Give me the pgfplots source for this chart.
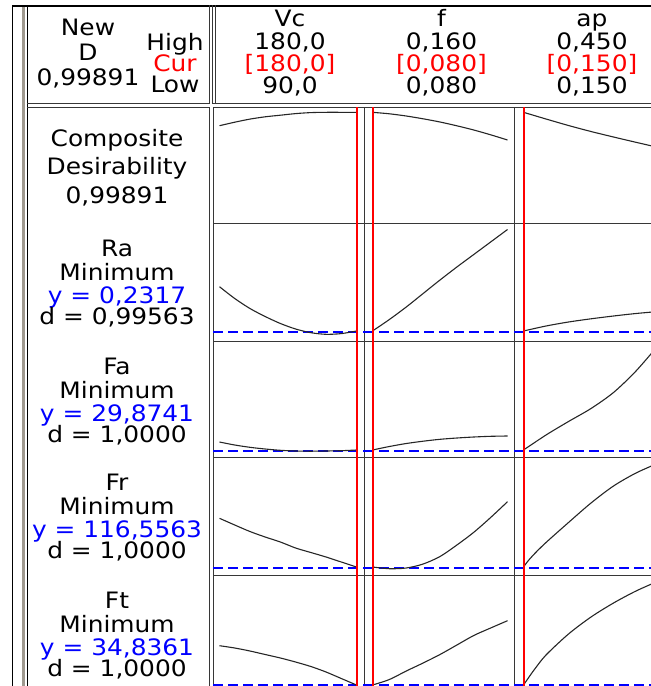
\documentclass[border=0pt]{standalone}
\usepackage{pgfplots}
\pgfplotsset{compat=1.18}
\usepackage{fontspec}
\setmainfont{DejaVu Sans}[FakeStretch=1.1]
\definecolor{mtred}{RGB}{255,0,0}
\definecolor{mtblue}{RGB}{0,0,255}
\definecolor{framegray}{RGB}{55,55,55}
\definecolor{bargray}{RGB}{160,154,144}

% panels: y in pixel rows of the optimizer sheet (downwards)
\pgfplotsset{
  panel/.style={anchor=north west, scale only axis, hide axis, clip=false, y dir=reverse},
  vc/.style={panel, at={(106.5pt,#1)}, width=75.5pt, xmin=85.73, xmax=184.93},
  ff/.style={panel, at={(182pt,#1)}, width=75pt, xmin=0.074963, xmax=0.16385},
  ap/.style={panel, at={(257pt,#1)}, width=75pt, xmin=0.12889, xmax=0.46222},
  resp/.style={draw=black!85, line width=0.55pt, smooth},
  setting/.style={draw=mtred, line width=1pt},
  goal/.style={draw=mtblue, line width=1pt, dash pattern=on 5pt off 2.5pt},
}

\begin{document}
\begin{tikzpicture}
\path[use as bounding box] (0,0) rectangle (325.5pt,-343pt);
\clip (0,0) rectangle (325.5pt,-343pt);

\begin{scope}[x=0.5pt, y=-0.5pt]
  % outer frame
  \draw[black, line width=0.6pt] (12.5,5) -- (12.5,700);
  \draw[bargray, line width=1.5pt] (23.5,5) -- (23.5,700);
  \draw[black, line width=0.6pt] (27.5,5) -- (27.5,700);
  \draw[black, line width=1pt] (12,5.5) -- (700,5.5);
  \draw[framegray, line width=0.9pt] (27,103.5) -- (209.5,103.5) -- (209.5,5);
  \draw[framegray, line width=0.9pt] (212.5,5) -- (212.5,103.5) -- (700,103.5);
  \draw[framegray, line width=0.6pt] (215.5,5) -- (215.5,103.5);
  \draw[framegray, line width=0.9pt] (27,107.5) -- (209.5,107.5) -- (209.5,700);
  \draw[framegray, line width=0.9pt] (213.5,700) -- (213.5,107.5) -- (700,107.5);
  \draw[framegray, line width=0.9pt] (364.5,107.5) -- (364.5,700);
  \draw[framegray, line width=0.9pt] (514.5,107.5) -- (514.5,700);
  \foreach \r in {223.5,341.5,457.5,575.5}
    \draw[framegray, line width=0.9pt] (213.5,\r) -- (700,\r);

  \begin{scope}[every node/.style={font=\fontsize{11.3pt}{12pt}\selectfont, inner sep=0pt, anchor=base}]
    % header
    \node at (88,35) {New};
    \node at (88,60) {D};
    \node at (88,85) {0,99891};
    \node at (175,50) {High};
    \node[text=mtred] at (175,71) {Cur};
    \node at (175,92) {Low};
    \node at (290,26.7) {Vc};
    \node at (290,49.3) {180,0};
    \node[text=mtred] at (290,71.7) {[180,0]};
    \node at (290,93.3) {90,0};
    \node at (441.5,26.7) {f};
    \node at (441.5,49.3) {0,160};
    \node[text=mtred] at (441.5,71.7) {[0,080]};
    \node at (441.5,93.3) {0,080};
    \node at (592,26.7) {ap};
    \node at (592,49.3) {0,450};
    \node[text=mtred] at (592,71.7) {[0,150]};
    \node at (592,93.3) {0,150};
    % response labels
    \node at (117,146) {Composite};
    \node at (117,174) {Desirability};
    \node at (117,203.3) {0,99891};
    \node at (117,256.5) {Ra};
    \node at (117,280) {Minimum};
    \node[text=mtblue] at (117,303) {y = 0,2317};
    \node at (117,324) {d = 0,99563};
    \node at (117,374.5) {Fa};
    \node at (117,398) {Minimum};
    \node[text=mtblue] at (117,421) {y = 29,8741};
    \node at (117,442) {d = 1,0000};
    \node at (117,490.5) {Fr};
    \node at (117,514) {Minimum};
    \node[text=mtblue] at (117,537) {y = 116,5563};
    \node at (117,558) {d = 1,0000};
    \node at (117,608.5) {Ft};
    \node at (117,632) {Minimum};
    \node[text=mtblue] at (117,655) {y = 34,8361};
    \node at (117,676) {d = 1,0000};
  \end{scope}
\end{scope}

% ---- Composite desirability (rows 107-223)
\begin{axis}[vc=-53.5pt, ymin=107, ymax=223, height=58pt]
\addplot[resp] coordinates {(90,125.7) (100,122.2) (110,119.1) (120,116.8) (130,115.2) (140,113.6) (150,112.6) (160,112.3) (170,112.3) (180,112.3)};
\addplot[setting] coordinates {(180,107) (180,223)};
\end{axis}
\begin{axis}[ff=-53.5pt, ymin=107, ymax=223, height=58pt]
\addplot[resp] coordinates {(0.08,112.3) (0.09,113.8) (0.10,116) (0.11,118.8) (0.12,122) (0.13,125.8) (0.14,130) (0.15,134.8) (0.16,140)};
\addplot[setting] coordinates {(0.08,107) (0.08,223)};
\end{axis}
\begin{axis}[ap=-53.5pt, ymin=107, ymax=223, height=58pt]
\addplot[resp] coordinates {(0.15,112.3) (0.2,119) (0.25,125.5) (0.3,131.5) (0.35,137) (0.4,142.3) (0.45,147.5)};
\addplot[setting] coordinates {(0.15,107) (0.15,223)};
\end{axis}

% ---- Ra (rows 223-341)
\begin{axis}[vc=-111.5pt, ymin=223, ymax=341, height=59pt]
\addplot[goal] coordinates {(85.73,331.5) (184.93,331.5)};
\addplot[resp] coordinates {(90,286.7) (100,298.5) (110,308.5) (120,316.5) (130,323.5) (140,329) (150,332.7) (160,334.3) (170,333.6) (180,331)};
\addplot[setting] coordinates {(180,223) (180,341)};
\end{axis}
\begin{axis}[ff=-111.5pt, ymin=223, ymax=341, height=59pt]
\addplot[goal] coordinates {(0.074963,331.5) (0.16385,331.5)};
\addplot[resp] coordinates {(0.08,331) (0.09,319.5) (0.10,307) (0.11,293.5) (0.12,280) (0.13,267) (0.14,254.5) (0.15,242) (0.16,229.5)};
\addplot[setting] coordinates {(0.08,223) (0.08,341)};
\end{axis}
\begin{axis}[ap=-111.5pt, ymin=223, ymax=341, height=59pt]
\addplot[goal] coordinates {(0.12889,331.5) (0.46222,331.5)};
\addplot[resp] coordinates {(0.15,331) (0.2,326) (0.25,322) (0.3,318.8) (0.35,316) (0.4,313.5) (0.45,311.5)};
\addplot[setting] coordinates {(0.15,223) (0.15,341)};
\end{axis}

% ---- Fa (rows 341-457)
\begin{axis}[vc=-170.5pt, ymin=341, ymax=457, height=58pt]
\addplot[goal] coordinates {(85.73,450.5) (184.93,450.5)};
\addplot[resp] coordinates {(90,442) (100,445) (110,447.3) (120,449) (130,450.3) (140,451) (150,451.2) (160,451) (170,450.7) (180,450)};
\addplot[setting] coordinates {(180,341) (180,457)};
\end{axis}
\begin{axis}[ff=-170.5pt, ymin=341, ymax=457, height=58pt]
\addplot[goal] coordinates {(0.074963,450.5) (0.16385,450.5)};
\addplot[resp] coordinates {(0.08,450) (0.09,446.5) (0.10,443.5) (0.11,441.2) (0.12,439.3) (0.13,438) (0.14,437) (0.15,436.3) (0.16,436)};
\addplot[setting] coordinates {(0.08,341) (0.08,457)};
\end{axis}
\begin{axis}[ap=-170.5pt, ymin=341, ymax=457, height=58pt]
\addplot[goal] coordinates {(0.12889,450.5) (0.46222,450.5)};
\addplot[resp] coordinates {(0.15,450) (0.2,435) (0.25,421.5) (0.3,408.5) (0.35,392.5) (0.4,371) (0.45,345)};
\addplot[setting] coordinates {(0.15,341) (0.15,457)};
\end{axis}

% ---- Fr (rows 457-575)
\begin{axis}[vc=-228.5pt, ymin=457, ymax=575, height=59pt]
\addplot[goal] coordinates {(85.73,567.5) (184.93,567.5)};
\addplot[resp] coordinates {(90,518.3) (100,525) (110,531.5) (120,537) (130,542) (140,548) (150,552.5) (160,557) (170,562) (180,567)};
\addplot[setting] coordinates {(180,457) (180,575)};
\end{axis}
\begin{axis}[ff=-228.5pt, ymin=457, ymax=575, height=59pt]
\addplot[goal] coordinates {(0.074963,567.5) (0.16385,567.5)};
\addplot[resp] coordinates {(0.08,567) (0.09,568.7) (0.10,568) (0.11,564) (0.12,556.5) (0.13,545) (0.14,532.3) (0.15,517.5) (0.16,501.7)};
\addplot[setting] coordinates {(0.08,457) (0.08,575)};
\end{axis}
\begin{axis}[ap=-228.5pt, ymin=457, ymax=575, height=59pt]
\addplot[goal] coordinates {(0.12889,567.5) (0.46222,567.5)};
\addplot[resp] coordinates {(0.15,567) (0.16,561) (0.175,553.5) (0.2,542.5) (0.25,522.5) (0.3,503) (0.35,486) (0.4,473) (0.45,463)};
\addplot[setting] coordinates {(0.15,457) (0.15,575)};
\end{axis}

% ---- Ft (rows 575-693)
\begin{axis}[vc=-287.5pt, ymin=575, ymax=693, height=59pt]
\addplot[goal] coordinates {(85.73,684.8) (184.93,684.8)};
\addplot[resp] coordinates {(90,645.7) (100,648) (110,651) (120,654.5) (130,658) (140,662) (150,666.5) (160,672) (170,678.5) (180,685)};
\addplot[setting] coordinates {(180,575) (180,693)};
\end{axis}
\begin{axis}[ff=-287.5pt, ymin=575, ymax=693, height=59pt]
\addplot[goal] coordinates {(0.074963,684.8) (0.16385,684.8)};
\addplot[resp] coordinates {(0.08,685) (0.09,679.5) (0.10,671) (0.11,663) (0.12,654.5) (0.13,645) (0.14,635.5) (0.15,628) (0.16,620.7)};
\addplot[setting] coordinates {(0.08,575) (0.08,693)};
\end{axis}
\begin{axis}[ap=-287.5pt, ymin=575, ymax=693, height=59pt]
\addplot[goal] coordinates {(0.12889,684.8) (0.46222,684.8)};
\addplot[resp] coordinates {(0.15,685) (0.16,678.5) (0.175,669) (0.2,655) (0.25,634) (0.3,617) (0.35,603) (0.4,591) (0.45,581)};
\addplot[setting] coordinates {(0.15,575) (0.15,693)};
\end{axis}
\end{tikzpicture}
\end{document}
